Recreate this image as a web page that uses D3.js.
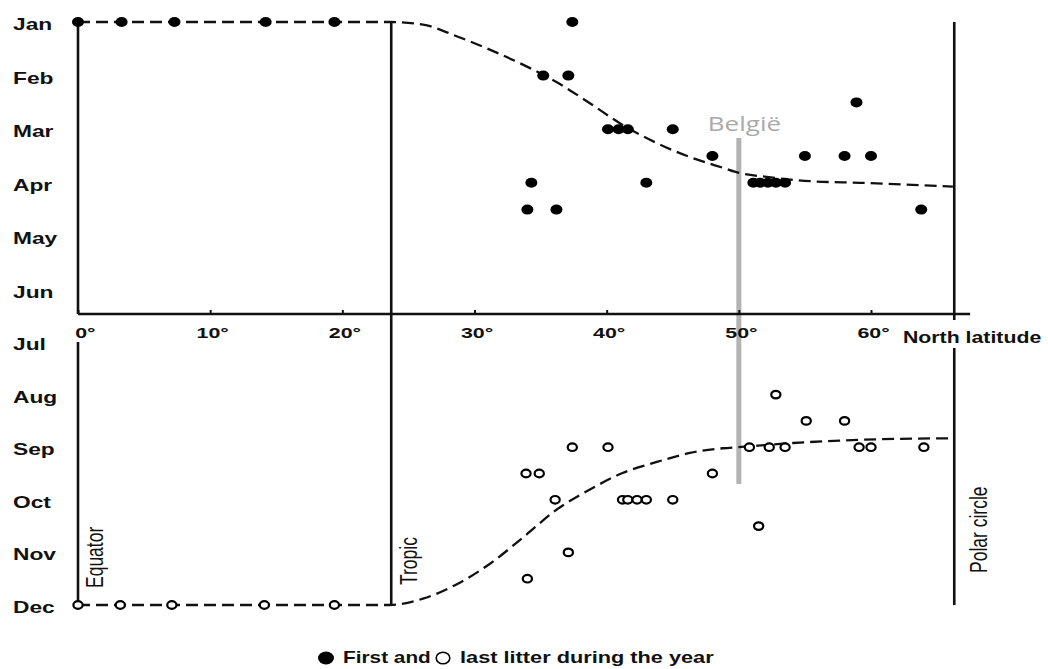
<script src="https://d3js.org/d3.v7.min.js"></script>
<body style="margin:0;background:#fff">
<script>
  const months = ["Jan", "Feb", "Mar", "Apr", "May", "Jun", "Jul", "Aug", "Sep", "Oct", "Nov", "Dec"];
  const latTicks = [0, 10, 20, 30, 40, 50, 60];

  // first litter (filled dots): latitude and month (1 = Jan, 4.5 = mid Apr-May)
  const firstLat = [0, 3.3, 7.3, 14.2, 19.4, 37.4, 35.2, 37.1, 40.1, 40.9, 41.6, 45.0, 48.0, 34.3, 43.0, 34.0, 36.2, 55.0, 58.0, 60.0, 58.9, 51.1, 51.6, 52.2, 52.8, 53.5, 63.8];
  const firstMonth = [1, 1, 1, 1, 1, 1, 2, 2, 3, 3, 3, 3, 3.5, 4, 4, 4.5, 4.5, 3.5, 3.5, 3.5, 2.5, 4, 4, 4, 4, 4, 4.5];

  // last litter (open circles)
  const lastLat = [0, 3.2, 7.1, 14.1, 19.4, 37.4, 40.1, 33.9, 34.9, 36.1, 41.2, 41.6, 42.3, 43.0, 45.0, 48.0, 50.8, 52.3, 53.5, 59.1, 60.0, 64.0, 52.8, 55.1, 58.0, 51.5, 37.1, 34.0];
  const lastMonth = [12, 12, 12, 12, 12, 9, 9, 9.5, 9.5, 10, 10, 10, 10, 10, 10, 9.5, 9, 9, 9, 9, 9, 9, 8, 8.5, 8.5, 10.5, 11, 11.5];

  // dashed trend curves
  const firstCurveLat = [0, 23.6, 26.1, 28.7, 31.2, 33.7, 36.2, 38.7, 41.2, 43.8, 46.3, 48.8, 50.1, 52.1, 55.4, 59.2, 66.2];
  const firstCurveMonth = [1, 1, 1.05, 1.27, 1.52, 1.8, 2.12, 2.51, 2.92, 3.26, 3.52, 3.72, 3.82, 3.89, 3.97, 4.0, 4.07];
  const lastCurveLat = [0, 23.6, 26.1, 28.7, 31.2, 33.7, 36.2, 38.7, 41.2, 43.8, 46.3, 48.8, 49.9, 54.1, 59.2, 66.2];
  const lastCurveMonth = [12, 12, 11.88, 11.6, 11.21, 10.71, 10.19, 9.81, 9.49, 9.28, 9.11, 9.02, 9.0, 8.92, 8.86, 8.83];

  const tropicLat = 23.7;
  const polarLat = 66.3;
  const belgiumLat = 50;

  const width = 1048, height = 669;
  const axisY = 314;
  const SX = 1.38; // the original is stretched sideways
  const font = "'Liberation Sans', Arial, Helvetica, sans-serif";

  const x = d3.scaleLinear().domain([0, 60]).range([78, 871]);
  const y = d3.scaleLinear().domain([1, 6, 7, 12]).range([22, 290, 342, 605]);

  const svg = d3.select("body").append("svg")
    .attr("width", width)
    .attr("height", height);

  function label(txt, px, py, size, weight, sx) {
    return svg.append("text")
      .attr("transform", "translate(" + px + "," + py + ") scale(" + (sx || SX) + ",1)")
      .attr("font-family", font)
      .attr("font-size", size)
      .attr("font-weight", weight)
      .attr("fill", "#111")
      .text(txt);
  }

  function vlabel(txt, px, py) {
    svg.append("text")
      .attr("transform", "translate(" + px + "," + py + ") rotate(-90) scale(1," + SX + ")")
      .attr("font-family", font)
      .attr("font-size", 17.5)
      .attr("fill", "#111")
      .text(txt);
  }

  function vline(lat, m0, m1, off0, off1) {
    svg.append("line")
      .attr("x1", x(lat)).attr("x2", x(lat))
      .attr("y1", m0 === null ? axisY + off0 : y(m0) + off0)
      .attr("y2", m1 === null ? axisY + off1 : y(m1) + off1)
      .attr("stroke", "#111")
      .attr("stroke-width", 2.6);
  }

  // month labels
  months.forEach(function(m, i) {
    label(m, 13, y(i + 1) + 8, 16.5, "bold");
  });

  // belgium marker
  svg.append("line")
    .attr("x1", x(belgiumLat)).attr("x2", x(belgiumLat))
    .attr("y1", 138).attr("y2", 484)
    .attr("stroke", "#b3b3b3")
    .attr("stroke-width", 5);
  svg.append("text")
    .attr("transform", "translate(" + (x(belgiumLat) - 31) + ",131) scale(1.3,1)")
    .attr("font-family", "'Open Sans', sans-serif")
    .attr("font-size", 20)
    .attr("fill", "#a9a9a9")
    .text("België");

  // frame lines
  vline(0, 1, null, 0, 0);
  vline(0, 7, 12, 0, 0);
  vline(tropicLat, 1, 12, 0, 0);
  vline(polarLat, 1, null, 0, 6);
  vline(polarLat, 7, 12, 6, 0);

  svg.append("line")
    .attr("x1", x(0)).attr("x2", x(67.5))
    .attr("y1", axisY).attr("y2", axisY)
    .attr("stroke", "#111")
    .attr("stroke-width", 2.6);

  const axis = d3.axisBottom(x)
    .tickValues(latTicks)
    .tickSizeInner(-4)
    .tickSizeOuter(0)
    .tickPadding(13)
    .tickFormat(function(d) { return d + "°"; });

  const gx = svg.append("g")
    .attr("transform", "translate(0," + axisY + ")")
    .call(axis);
  gx.select(".domain").remove();
  gx.selectAll(".tick line").attr("stroke", "#111").attr("stroke-width", 2);
  gx.selectAll(".tick text")
    .attr("font-family", font)
    .attr("font-size", 15.5)
    .attr("font-weight", "bold")
    .attr("fill", "#111")
    .attr("transform", "scale(" + SX + ",1)")
    .attr("dx", function(d) { return d === 0 ? 5 : 1.5; });

  label("North latitude", 903, 343, 16, "bold", 1.33);

  vlabel("Equator", 103, 588);
  vlabel("Tropic", 417, 585);
  vlabel("Polar circle", 987, 573);

  // trend curves
  const line = d3.line()
    .x(function(d) { return x(d[0]); })
    .y(function(d) { return y(d[1]); })
    .curve(d3.curveMonotoneX);

  [d3.zip(firstCurveLat, firstCurveMonth), d3.zip(lastCurveLat, lastCurveMonth)].forEach(function(pts) {
    svg.append("path")
      .datum(pts)
      .attr("d", line)
      .attr("fill", "none")
      .attr("stroke", "#111")
      .attr("stroke-width", 2.3)
      .attr("stroke-dasharray", "12,6");
  });

  // dots
  svg.append("g").selectAll("ellipse")
    .data(d3.zip(firstLat, firstMonth))
    .enter()
    .append("ellipse")
    .attr("cx", function(d) { return x(d[0]); })
    .attr("cy", function(d) { return y(d[1]); })
    .attr("rx", 6)
    .attr("ry", 5)
    .attr("fill", "#000");

  svg.append("g").selectAll("ellipse")
    .data(d3.zip(lastLat, lastMonth))
    .enter()
    .append("ellipse")
    .attr("cx", function(d) { return x(d[0]); })
    .attr("cy", function(d) { return y(d[1]); })
    .attr("rx", 4.6)
    .attr("ry", 3.8)
    .attr("fill", "#fff")
    .attr("stroke", "#000")
    .attr("stroke-width", 2.2);

  // legend
  svg.append("ellipse")
    .attr("cx", 326).attr("cy", 658).attr("rx", 8).attr("ry", 6.5)
    .attr("fill", "#000");
  label("First and", 343, 663, 16, "bold", 1.3);
  svg.append("ellipse")
    .attr("cx", 443).attr("cy", 658).attr("rx", 6.8).attr("ry", 5.8)
    .attr("fill", "none").attr("stroke", "#000").attr("stroke-width", 1.6);
  label("last litter during the year", 460, 663, 16, "bold", 1.36);
</script>
</body>
